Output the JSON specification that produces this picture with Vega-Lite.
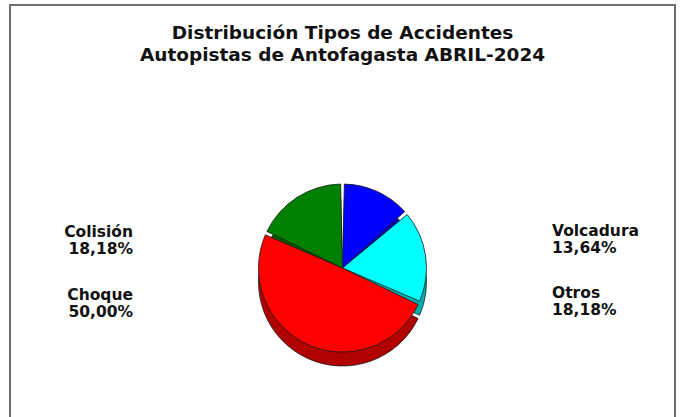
{
  "$schema": "https://vega.github.io/schema/vega-lite/v6.json",
  "width": 665,
  "height": 526,
  "autosize": "none",
  "padding": {"left": 10, "top": 5, "right": 6, "bottom": 0},
  "background": "white",
  "config": {"view": {"stroke": "#6e6e6e", "strokeWidth": 2}},
  "title": {
    "text": ["Distribución Tipos de Accidentes", "Autopistas de Antofagasta ABRIL-2024"],
    "font": "DejaVu Sans",
    "fontSize": 18.5,
    "fontWeight": "bold",
    "color": "#111111",
    "anchor": "middle",
    "lineHeight": 22,
    "offset": -59
  },
  "data": {
    "values": [
      {"tipo": "Volcadura", "casos": 3, "pct": "13,64%"},
      {"tipo": "Otros", "casos": 4, "pct": "18,18%"},
      {"tipo": "Choque", "casos": 11, "pct": "50,00%"},
      {"tipo": "Colisión", "casos": 4, "pct": "18,18%"}
    ]
  },
  "transform": [
    {"window": [{"op": "row_number", "as": "orden"}]},
    {"calculate": "datum.tipo + '\\n' + datum.pct", "as": "etiqueta"}
  ],
  "layer": [
    {
      "mark": {"type": "arc", "outerRadius": 84, "padAngle": 0.045, "yOffset": 14, "stroke": "#1a1a1a", "strokeWidth": 0.8},
      "encoding": {
        "theta": {"field": "casos", "type": "quantitative", "stack": true},
        "order": {"field": "orden", "type": "quantitative"},
        "color": {
          "field": "tipo", "type": "nominal", "legend": null,
          "scale": {"domain": ["Volcadura", "Otros", "Choque", "Colisión"], "range": ["#0000b0", "#00b0b0", "#b00000", "#005a00"]}
        }
      }
    },
    {
      "mark": {"type": "arc", "outerRadius": 84, "padAngle": 0.045, "stroke": "#1a1a1a", "strokeWidth": 0.8},
      "encoding": {
        "theta": {"field": "casos", "type": "quantitative", "stack": true},
        "order": {"field": "orden", "type": "quantitative"},
        "fill": {
          "field": "tipo", "type": "nominal", "legend": null,
          "scale": {"domain": ["Volcadura", "Otros", "Choque", "Colisión"], "range": ["#0000ff", "#00ffff", "#ff0000", "#008000"]}
        }
      }
    },
    {
      "transform": [{"filter": "datum.tipo === 'Colisión' || datum.tipo === 'Choque'"}],
      "mark": {"type": "text", "align": "right", "baseline": "alphabetic", "font": "DejaVu Sans", "fontSize": 15.5, "fontWeight": "bold", "lineBreak": "\n", "lineHeight": 17, "color": "#111111"},
      "encoding": {
        "x": {"datum": "izquierda", "type": "nominal", "scale": {"type": "point", "domain": ["izquierda", "derecha"], "range": [123, 542], "padding": 0}, "axis": null},
        "y": {"field": "tipo", "type": "nominal", "scale": {"type": "point", "domain": ["Colisión", "Choque"], "range": [232, 295], "padding": 0}, "axis": null},
        "text": {"field": "etiqueta"}
      }
    },
    {
      "transform": [{"filter": "datum.tipo === 'Volcadura' || datum.tipo === 'Otros'"}],
      "mark": {"type": "text", "align": "left", "baseline": "alphabetic", "font": "DejaVu Sans", "fontSize": 15.5, "fontWeight": "bold", "lineBreak": "\n", "lineHeight": 17, "color": "#111111"},
      "encoding": {
        "x": {"datum": "derecha", "type": "nominal", "scale": {"type": "point", "domain": ["izquierda", "derecha"], "range": [123, 542], "padding": 0}, "axis": null},
        "y": {"field": "tipo", "type": "nominal", "scale": {"type": "point", "domain": ["Volcadura", "Otros"], "range": [231, 293], "padding": 0}, "axis": null},
        "text": {"field": "etiqueta"}
      }
    }
  ],
  "resolve": {"scale": {"y": "independent", "color": "independent", "fill": "independent"}}
}
